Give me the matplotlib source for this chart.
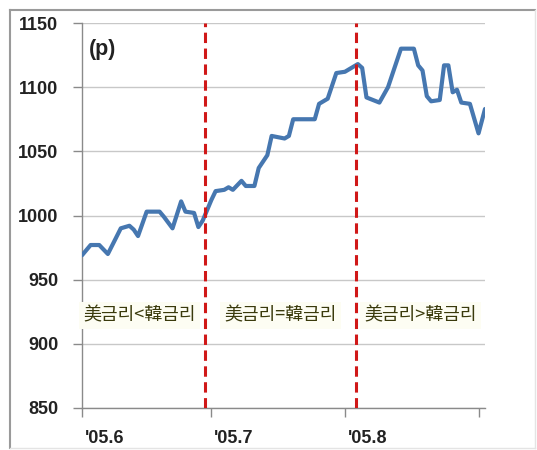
import numpy as np
import matplotlib
matplotlib.use("Agg")
import matplotlib.pyplot as plt
import matplotlib.transforms as mtransforms
from matplotlib.lines import Line2D

# KOSPI-style index level, June - early September 2005
dates = [
    "2005-06-01", "2005-06-03", "2005-06-05", "2005-06-07", "2005-06-10",
    "2005-06-12", "2005-06-13", "2005-06-14", "2005-06-16", "2005-06-19",
    "2005-06-20", "2005-06-22", "2005-06-24", "2005-06-25", "2005-06-27",
    "2005-06-28", "2005-06-29", "2005-07-01", "2005-07-02", "2005-07-04",
    "2005-07-05", "2005-07-06", "2005-07-08", "2005-07-09", "2005-07-11",
    "2005-07-12", "2005-07-14", "2005-07-15", "2005-07-18", "2005-07-19",
    "2005-07-20", "2005-07-25", "2005-07-26", "2005-07-28", "2005-07-30",
    "2005-08-01", "2005-08-04", "2005-08-05", "2005-08-06", "2005-08-09",
    "2005-08-11", "2005-08-14", "2005-08-17", "2005-08-18", "2005-08-19",
    "2005-08-20", "2005-08-21", "2005-08-23", "2005-08-24", "2005-08-25",
    "2005-08-26", "2005-08-27", "2005-08-28", "2005-08-30", "2005-09-01",
    "2005-09-02T12:00",
]
index_level = [
    969, 977, 977, 970, 990,
    992, 989, 984, 1003, 1003,
    999, 990, 1011, 1003, 1002,
    991, 996, 1012, 1019, 1020,
    1022, 1020, 1027, 1023, 1023,
    1037, 1047, 1062, 1060, 1062,
    1075, 1075, 1087, 1091, 1111,
    1112, 1118, 1115, 1092, 1088,
    1100, 1130, 1130, 1117, 1113,
    1093, 1089, 1090, 1117, 1117,
    1096, 1098, 1088, 1087, 1064,
    1083,
]

# rate regime boundaries and labels
boundaries = ["2005-06-29T12:00", "2005-08-03T14:00"]
regime_labels = ["美금리<韓금리", "美금리=韓금리", "美금리>韓금리"]
regime_centers = ["2005-06-14T06:00", "2005-07-17T00:00", "2005-08-18T12:00"]
regime_level = 922

tick_dates = ["2005-06-01", "2005-07-01", "2005-08-01", "2005-09-01"]
tick_labels = ["'05.6", "'05.7", "'05.8", ""]
y_ticks = [850, 900, 950, 1000, 1050, 1100, 1150]
unit_label = "(p)"

x = np.array(dates, dtype="datetime64[m]")
fig = plt.figure(figsize=(5.37, 4.5), dpi=100)
ax = fig.add_axes([82 / 537, 1 - 408 / 450, 403 / 537, 385 / 450])

ax.set_ylim(850, 1150)
ax.set_xlim(np.datetime64("2005-06-01T00:00"), np.datetime64("2005-09-02T12:00"))
ax.set_yticks(y_ticks)
ax.yaxis.grid(True, color="#c8c8c8", linewidth=1.0)
ax.set_axisbelow(True)

ax.plot(x, index_level, color="#4677b0", linewidth=3.0,
        solid_joinstyle="round", solid_capstyle="round", zorder=3)

for b in boundaries:
    ax.axvline(np.datetime64(b), color="#d01818", linewidth=2.2,
               linestyle=(0, (3.4, 1.8)), zorder=4)

for lab, c in zip(regime_labels, regime_centers):
    ax.text(np.datetime64(c), regime_level, lab, ha="center", va="center",
            fontsize=13, color="#3a3a0c",
            family=["Noto Sans CJK KR", "DejaVu Sans"],
            bbox=dict(facecolor="#fdfdf3", edgecolor="none", pad=3))

ax.text(0.016, 0.93, unit_label, transform=ax.transAxes, ha="left",
        va="center", fontsize=15.5, fontweight="bold", family="Liberation Sans",
        color="#222222")

ax.set_xticks(np.array(tick_dates, dtype="datetime64[m]"))
ax.set_xticklabels(tick_labels)
for spine in ["top", "right"]:
    ax.spines[spine].set_visible(False)
for spine in ["left", "bottom"]:
    ax.spines[spine].set_color("#8a8a8a")
    ax.spines[spine].set_linewidth(1.0)

ax.tick_params(axis="both", direction="out", length=6.5, width=1.0,
               color="#8a8a8a", labelsize=13, labelcolor="#222222")
ax.tick_params(axis="y", pad=10.5)
ax.tick_params(axis="x", pad=9)
offset = mtransforms.ScaledTranslation(3 / 100, 0, fig.dpi_scale_trans)
for lbl in ax.get_xticklabels():
    lbl.set_horizontalalignment("left")
    lbl.set_transform(lbl.get_transform() + offset)
for lbl in ax.get_xticklabels() + ax.get_yticklabels():
    lbl.set_fontfamily("Liberation Sans")
    lbl.set_fontweight("bold")

# outer frame
fx0, fx1 = 10 / 537, 535 / 537
fy0, fy1 = 1 - 448 / 450, 1 - 10 / 450
fig.add_artist(Line2D([fx0, fx0], [fy0, fy1], color="#9a9a9a", linewidth=1.5))
fig.add_artist(Line2D([fx0, fx1], [fy1, fy1], color="#9a9a9a", linewidth=1.5))
fig.add_artist(Line2D([fx1, fx1], [fy0, fy1], color="#e4e4e4", linewidth=1.0))
fig.add_artist(Line2D([fx0, fx1], [fy0, fy0], color="#e4e4e4", linewidth=1.0))

fig.savefig("out.png", dpi=100)
